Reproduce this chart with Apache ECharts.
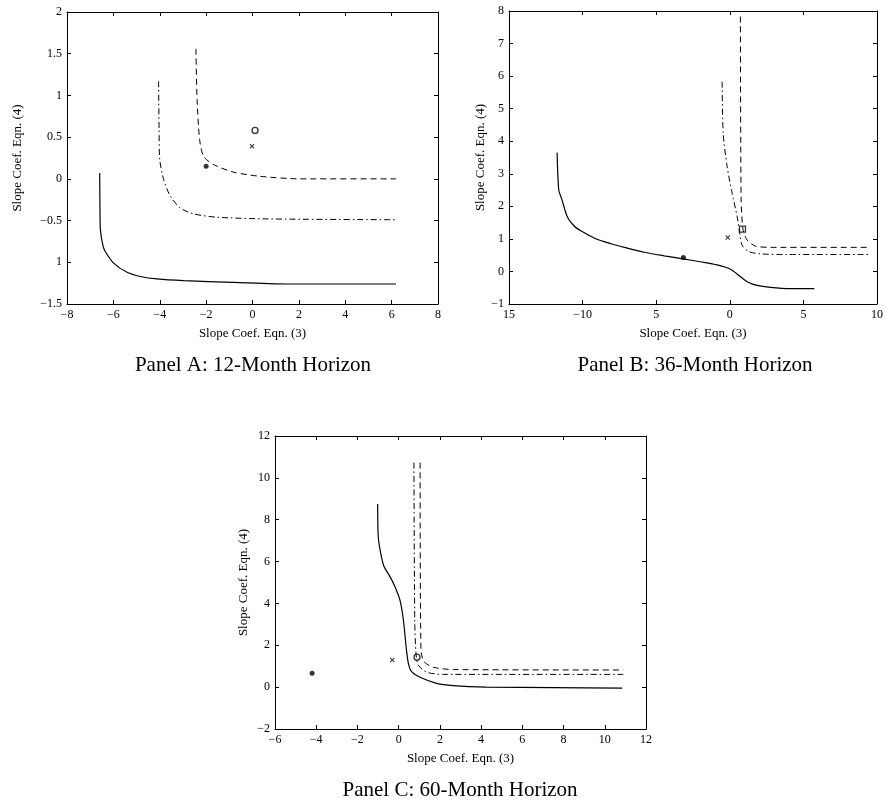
<!DOCTYPE html>
<html>
<head>
<meta charset="utf-8">
<script src="https://cdn.jsdelivr.net/npm/echarts@6/dist/echarts.min.js"></script>
<style>
  html, body { margin: 0; padding: 0; background: #fff; }
  #main { width: 886px; height: 804px; }
</style>
</head>
<body>
<div id="main"></div>
<script>
// Panel A: 12-month horizon
const aSolid = [[-6.59, 0.07], [-6.58, -0.3], [-6.56, -0.61], [-6.45, -0.8], [-6.35, -0.87], [-5.99, -1.01], [-5.41, -1.12], [-4.84, -1.17], [-4.12, -1.20], [-2.97, -1.22], [-0.81, -1.24], [1.63, -1.26], [6.19, -1.26]]
const aDashDot = [[-4.05, 1.17], [-4.03, 0.6], [-4.0, 0.23], [-3.83, -0.01], [-3.54, -0.21], [-3.11, -0.35], [-2.54, -0.42], [-1.53, -0.46], [0.63, -0.48], [6.19, -0.49]]
const aDashed = [[-2.44, 1.56], [-2.39, 0.95], [-2.28, 0.47], [-2.11, 0.27], [-1.67, 0.17], [-0.81, 0.08], [0.34, 0.03], [2.06, 0.0], [6.19, 0.0]]
const aFilled = [[-2.0, 0.15]]
const aOpen = [[0.11, 0.58]]
const aCross = [[-0.02, 0.39]]
const aXTicks = ['\u22128', '\u22126', '\u22124', '\u22122', '0', '2', '4', '6', '8']
const aYTicks = ['\u22121.5', '1', '\u22120.5', '0', '0.5', '1', '1.5', '2']

// Panel B: 36-month horizon
const bSolid = [[-11.73, 3.65], [-11.62, 2.5], [-11.4, 2.2], [-11.04, 1.68], [-10.54, 1.38], [-10.09, 1.24], [-9.19, 1.02], [-8.06, 0.85], [-7.16, 0.74], [-5.81, 0.59], [-4.46, 0.48], [-3.11, 0.38], [-1.76, 0.28], [-0.86, 0.2], [0.05, 0.07], [0.72, -0.16], [1.28, -0.34], [1.85, -0.43], [2.75, -0.49], [4.1, -0.53], [5.74, -0.53]]
const bDashDot = [[-0.52, 5.83], [-0.45, 4.24], [-0.18, 3.22], [0.16, 2.4], [0.5, 1.68], [0.68, 1.17], [0.83, 0.81], [1.28, 0.61], [2.07, 0.54], [3.87, 0.52], [9.5, 0.52]]
const bDashed = [[0.72, 7.83], [0.77, 2.2], [0.9, 1.28], [1.17, 0.97], [1.73, 0.78], [2.75, 0.74], [9.5, 0.74]]
const bFilled = [[-3.15, 0.43]]
const bOpen = [[0.86, 1.3]]
const bCross = [[-0.14, 1.04]]
const bXTicks = ['15', '\u221210', '5', '0', '5', '10']
const bYTicks = ['\u22121', '0', '1', '2', '3', '4', '5', '6', '7', '8']

// Panel C: 60-month horizon
const cSolid = [[-1.02, 8.75], [-0.99, 7.19], [-0.87, 6.39], [-0.71, 5.76], [-0.42, 5.28], [-0.18, 4.8], [0.06, 4.17], [0.23, 3.21], [0.36, 1.94], [0.47, 1.14], [0.63, 0.74], [1.04, 0.47], [1.84, 0.18], [2.65, 0.07], [4.27, 0.0], [7.5, -0.02], [10.85, -0.05]]
const cDashDot = [[0.74, 10.73], [0.78, 3.21], [0.84, 1.62], [0.95, 1.06], [1.36, 0.71], [2.17, 0.61], [10.9, 0.61]]
const cDashed = [[1.04, 10.73], [1.08, 1.78], [1.23, 1.22], [1.68, 0.95], [2.65, 0.84], [10.9, 0.82]]
const cFilled = [[-4.2, 0.66]]
const cOpen = [[0.89, 1.43]]
const cCross = [[-0.31, 1.3]]
const cXTicks = ['\u22126', '\u22124', '\u22122', '0', '2', '4', '6', '8', '10', '12']
const cYTicks = ['\u22122', '0', '2', '4', '6', '8', '10', '12']

const serif = 'Liberation Serif'
const crossPath = 'path://M0,1.5L1.5,0L5,3.5L8.5,0L10,1.5L6.5,5L10,8.5L8.5,10L5,6.5L1.5,10L0,8.5L3.5,5Z'

const panels = [
  { grid: { left: 67, top: 12, width: 371, height: 292 }, x: [-8, 8, 2], y: [-1.5, 2, 0.5], xt: aXTicks, yt: aYTicks, yGap: 43,
    solid: aSolid, dashDot: aDashDot, dashed: aDashed, filled: aFilled, open: aOpen, cross: aCross, openSymbol: 'circle' },
  { grid: { left: 509, top: 11, width: 369, height: 293 }, x: [-15, 10, 5], y: [-1, 8, 1], xt: bXTicks, yt: bYTicks, yGap: 22,
    solid: bSolid, dashDot: bDashDot, dashed: bDashed, filled: bFilled, open: bOpen, cross: bCross, openSymbol: 'rect' },
  { grid: { left: 275, top: 436, width: 371, height: 293 }, x: [-6, 12, 2], y: [-2, 12, 2], xt: cXTicks, yt: cYTicks, yGap: 25,
    solid: cSolid, dashDot: cDashDot, dashed: cDashed, filled: cFilled, open: cOpen, cross: cCross, openSymbol: 'circle' }
]

function makeAxis(idx, range, ticks, position, main, isX, gap) {
  const axis = {
    type: 'value',
    gridIndex: idx,
    position: position,
    min: range[0],
    max: range[1],
    interval: range[2],
    splitLine: { show: false },
    axisLine: { show: true, onZero: false, lineStyle: { color: '#000', width: 1 } },
    axisTick: { show: true, inside: true, length: 4, lineStyle: { color: '#000', width: 1 } },
    axisLabel: {
      show: main,
      color: '#000',
      fontFamily: serif,
      fontSize: 12,
      margin: isX ? 5 : 5,
      formatter: function (v) {
        const i = Math.round((v - range[0]) / range[2])
        return ticks[i]
      }
    }
  }
  if (main) {
    axis.name = isX ? 'Slope Coef. Eqn. (3)' : 'Slope Coef. Eqn. (4)'
    axis.nameLocation = 'middle'
    axis.nameGap = gap
    axis.nameTextStyle = { color: '#000', fontFamily: serif, fontSize: 13 }
  }
  return axis
}

let xAxes = []
let yAxes = []
let series = []
panels.forEach((p, i) => {
  xAxes.push(makeAxis(i, p.x, p.xt, 'bottom', true, true, 23))
  xAxes.push(makeAxis(i, p.x, p.xt, 'top', false, true))
  yAxes.push(makeAxis(i, p.y, p.yt, 'left', true, false, p.yGap))
  yAxes.push(makeAxis(i, p.y, p.yt, 'right', false, false))
  const ax = { xAxisIndex: i * 2, yAxisIndex: i * 2 }
  const lineBase = { type: 'line', showSymbol: false, smooth: 0.25, silent: true, animation: false }
  series.push(Object.assign({}, lineBase, ax, { data: p.solid, lineStyle: { color: '#000', width: 1.2 } }))
  series.push(Object.assign({}, lineBase, ax, { data: p.dashDot, lineStyle: { color: '#000', width: 1, type: [6, 3, 1.5, 3] } }))
  series.push(Object.assign({}, lineBase, ax, { data: p.dashed, lineStyle: { color: '#000', width: 1, type: [6, 4] } }))
  series.push(Object.assign({ type: 'scatter', data: p.filled, symbol: 'circle', symbolSize: 5,
    itemStyle: { color: '#000' }, animation: false }, ax))
  series.push(Object.assign({ type: 'scatter', data: p.open, symbol: p.openSymbol, symbolSize: 6,
    itemStyle: { color: '#fff', borderColor: '#000', borderWidth: 1.3 }, animation: false }, ax))
  series.push(Object.assign({ type: 'scatter', data: p.cross, symbol: crossPath, symbolSize: 5,
    itemStyle: { color: '#000' }, animation: false }, ax))
})

let chartDom = document.getElementById('main')
let myChart = echarts.init(chartDom)
let option

const titleFont = '21px "Liberation Serif"'
option = {
  backgroundColor: '#fff',
  animation: false,
  grid: panels.map(p => p.grid),
  xAxis: xAxes,
  yAxis: yAxes,
  series: series,
  graphic: [
    { type: 'text', x: 253, y: 365, style: { text: 'Panel A: 12-Month Horizon', textAlign: 'center', textVerticalAlign: 'middle', fill: '#000', font: titleFont } },
    { type: 'text', x: 695, y: 365, style: { text: 'Panel B: 36-Month Horizon', textAlign: 'center', textVerticalAlign: 'middle', fill: '#000', font: titleFont } },
    { type: 'text', x: 460, y: 790, style: { text: 'Panel C: 60-Month Horizon', textAlign: 'center', textVerticalAlign: 'middle', fill: '#000', font: titleFont } }
  ]
}

option && myChart.setOption(option)
</script>
</body>
</html>
